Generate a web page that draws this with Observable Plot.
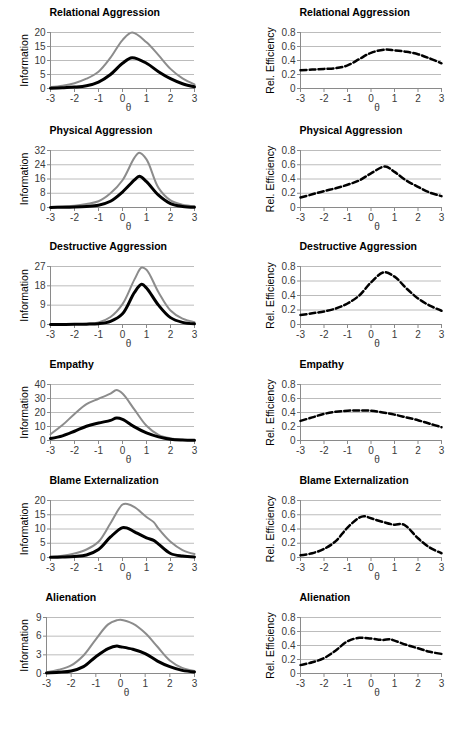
<!DOCTYPE html>
<html><head><meta charset="utf-8">
<script src="https://cdn.jsdelivr.net/npm/d3@7"></script>
<script src="https://cdn.jsdelivr.net/npm/@observablehq/plot@0.6"></script>
<style>
body{margin:0;background:#fff;}
#root{position:relative;width:474px;height:736px;overflow:hidden;font-family:"Liberation Sans",Arial,sans-serif;}
#root svg{position:absolute;overflow:visible;}
</style></head>
<body><div id="root"></div>
<script>
// ---- data ----
const titles = ["Relational Aggression","Physical Aggression","Destructive Aggression","Empathy","Blame Externalization","Alienation"];
const infoTicks = [[0,5,10,15,20],[0,8,16,24,32],[0,9,18,27],[0,10,20,30,40],[0,5,10,15,20],[0,3,6,9]];
const effTicks = [0,0.2,0.4,0.6,0.8];
const xTicks = [-3,-2,-1,0,1,2,3];

// Relational Aggression
const relInfoTheta = [-3,-2.5,-2,-1.5,-1,-0.5,0,0.4,1,1.5,2,2.5,3];
const relInfoGray  = [0.5,1.0,1.9,3.5,6,11,17.3,20,16.5,11.9,7,3.6,1.5];
const relInfoBlack = [0.1,0.25,0.5,1.0,2.3,5,9,11,9,6,3.5,1.7,0.6];
const relEffTheta  = [-3,-2.5,-2,-1.5,-1,-0.5,0,0.6,1,1.5,2,2.5,3];
const relEff       = [0.26,0.27,0.28,0.29,0.33,0.42,0.51,0.555,0.545,0.525,0.49,0.43,0.36];

// Physical Aggression
const phyInfoTheta = [-3,-2.5,-2,-1.5,-1,-0.5,0,0.5,0.7,1,1.5,2,2.5,3];
const phyInfoGray  = [0.3,0.6,1,2,3.5,8,15.3,28,30.7,27,11,4,1.6,0.7];
const phyInfoBlack = [0.05,0.1,0.25,0.6,1.3,3.5,8.7,15.5,17.5,14.5,6.9,2.2,0.6,0.15];
const phyEffTheta  = [-3,-2.5,-2,-1.5,-1,-0.5,0,0.6,1,1.5,2,2.5,3];
const phyEff       = [0.14,0.185,0.23,0.27,0.32,0.38,0.48,0.575,0.5,0.38,0.29,0.21,0.16];

// Destructive Aggression
const desInfoTheta = [-3,-2.5,-2,-1.5,-1,-0.5,0,0.5,0.8,1,1.5,2,2.5,3];
const desInfoGray  = [0.05,0.1,0.2,0.4,1,3.5,9.5,21,26.5,25.5,15,6.5,2.7,1.1];
const desInfoBlack = [0.01,0.03,0.06,0.15,0.4,1.5,5,15,18.7,17,9,3.2,1,0.3];
const desEffTheta  = [-3,-2.5,-2,-1.5,-1,-0.5,0,0.55,1,1.5,2,2.5,3];
const desEff       = [0.13,0.155,0.18,0.22,0.29,0.4,0.58,0.72,0.66,0.5,0.36,0.26,0.19];

// Empathy
const empInfoTheta = [-3,-2.5,-2,-1.5,-1,-0.5,-0.25,0,0.5,1,1.5,2,2.5,3];
const empInfoGray  = [4.5,11,19,26,29.8,33.5,36,33.5,22,10.5,4,1.5,0.6,0.2];
const empInfoBlack = [1.4,3.3,6.6,10.2,12.5,14.4,16,15.1,9.7,5.4,2.6,0.9,0.3,0.1];
const empEffTheta  = [-3,-2.5,-2,-1.5,-1,-0.5,0,0.5,1,1.5,2,2.5,3];
const empEff       = [0.28,0.33,0.38,0.41,0.425,0.43,0.425,0.4,0.37,0.33,0.29,0.24,0.19];

// Blame Externalization
const blaInfoTheta = [-3,-2.5,-2,-1.5,-1,-0.5,0,0.2,0.5,1,1.3,1.5,2,2.5,3];
const blaInfoGray  = [0.2,0.6,1.4,2.8,5.5,12,18.6,18.8,17.7,14.2,12.4,10.1,5.5,2.6,1.2];
const blaInfoBlack = [0.05,0.15,0.35,0.9,2.8,7.2,10.5,10.3,9,6.9,6,4.7,1.4,0.5,0.2];
const blaEffTheta  = [-3,-2.5,-2,-1.5,-1,-0.5,-0.3,0,0.5,1,1.3,1.5,2,2.5,3];
const blaEff       = [0.03,0.06,0.12,0.23,0.42,0.56,0.58,0.55,0.5,0.46,0.47,0.44,0.27,0.14,0.06];

// Alienation
const aliInfoTheta = [-3,-2.5,-2,-1.5,-1,-0.5,-0.15,0,0.5,1,1.5,2,2.5,3];
const aliInfoGray  = [0.2,0.6,1.3,2.9,5.5,7.9,8.55,8.65,8.0,6.5,4.3,2.1,0.9,0.4];
const aliInfoBlack = [0.1,0.2,0.4,1.1,2.7,4.0,4.4,4.3,3.9,3.2,2.0,1.1,0.5,0.25];
const aliEffTheta  = [-3,-2.5,-2,-1.5,-1,-0.5,0,0.5,0.8,1,1.5,2,2.5,3];
const aliEff       = [0.12,0.16,0.22,0.33,0.46,0.51,0.5,0.48,0.49,0.47,0.41,0.36,0.31,0.28];

const infoSets = [
  [relInfoTheta, relInfoGray, relInfoBlack],
  [phyInfoTheta, phyInfoGray, phyInfoBlack],
  [desInfoTheta, desInfoGray, desInfoBlack],
  [empInfoTheta, empInfoGray, empInfoBlack],
  [blaInfoTheta, blaInfoGray, blaInfoBlack],
  [aliInfoTheta, aliInfoGray, aliInfoBlack]
];
const effSets = [
  [relEffTheta, relEff],[phyEffTheta, phyEff],[desEffTheta, desEff],
  [empEffTheta, empEff],[blaEffTheta, blaEff],[aliEffTheta, aliEff]
];

// ---- layout ----
const plotTops = [32,150,266,384,500,617];
const plotBottoms = [88,207,324,440,557,673];
const leftMargins = [50,50,50,50,50,46];
const MT = 28, MB = 30;
const FONT = "'Liberation Sans', Arial, sans-serif";
const AXIS = "#8a8a8a", GRID = "#bcbcbc", TICKTXT = "#3a3a3a";

const root = document.getElementById("root");

function panel({title, yLabel, ticks, marks, left, ml, mr, top, h, labelDx}) {
  const maxY = ticks[ticks.length - 1];
  const chart = Plot.plot({
    width: 237, height: MT + h + MB,
    marginTop: MT, marginBottom: MB, marginLeft: ml, marginRight: mr,
    style: {fontFamily: FONT, fontSize: "10px", background: "transparent", overflow: "visible"},
    x: {domain: [-3, 3]},
    y: {domain: [0, maxY]},
    marks: [
      Plot.gridY(ticks.filter(t => t > 0), {stroke: GRID, strokeOpacity: 1}),
      Plot.ruleY([0], {stroke: AXIS}),
      Plot.ruleX([-3], {stroke: AXIS}),
      Plot.axisX({ticks: xTicks, tickSize: 4, tickPadding: 2, stroke: AXIS, fill: TICKTXT, tickFormat: d => String(d), label: null, fontSize: 10}),
      Plot.axisY({ticks, tickSize: 3, tickPadding: 2, stroke: AXIS, fill: TICKTXT, tickFormat: d => String(d), label: null, fontSize: 10}),
      ...marks,
      Plot.text([title], {frameAnchor: "top-left", text: d => d, dy: -20, dx: -1, lineAnchor: "middle", textAnchor: "start", fontWeight: "bold", fontSize: 10.5, fill: "#000"}),
      Plot.text([yLabel], {frameAnchor: "left", text: d => d, rotate: -90, dx: labelDx, lineAnchor: "middle", textAnchor: "middle", fontSize: 10.5, fill: "#000"}),
      Plot.text(["θ"], {frameAnchor: "bottom", text: d => d, dx: 6, dy: 19, lineAnchor: "middle", fontSize: 10, fill: TICKTXT})
    ]
  });
  chart.style.left = left + "px";
  chart.style.top = (top - MT) + "px";
  root.appendChild(chart);
}

for (let i = 0; i < 6; i++) {
  const [th, gray, black] = infoSets[i];
  const gData = th.map((t, k) => ({t, v: gray[k]}));
  const bData = th.map((t, k) => ({t, v: black[k]}));
  const h = plotBottoms[i] - plotTops[i];
  panel({
    title: titles[i], yLabel: "Information", ticks: infoTicks[i],
    left: 0, ml: leftMargins[i], mr: 43, top: plotTops[i], h,
    labelDx: 24 - leftMargins[i],
    marks: [
      Plot.lineY(gData, {x: "t", y: "v", stroke: "#8c8c8c", strokeWidth: 2, curve: "catmull-rom"}),
      Plot.lineY(bData, {x: "t", y: "v", stroke: "#000", strokeWidth: 3, curve: "catmull-rom"})
    ]
  });
  const [et, ev] = effSets[i];
  const eData = et.map((t, k) => ({t, v: ev[k]}));
  panel({
    title: titles[i], yLabel: "Rel. Efficiency", ticks: effTicks,
    left: 237, ml: 63, mr: 33, top: plotTops[i], h,
    labelDx: -30,
    marks: [
      Plot.lineY(eData, {x: "t", y: "v", stroke: "#000", strokeWidth: 2.5, strokeDasharray: "6,3", curve: "catmull-rom"})
    ]
  });
}
</script>
</body></html>
